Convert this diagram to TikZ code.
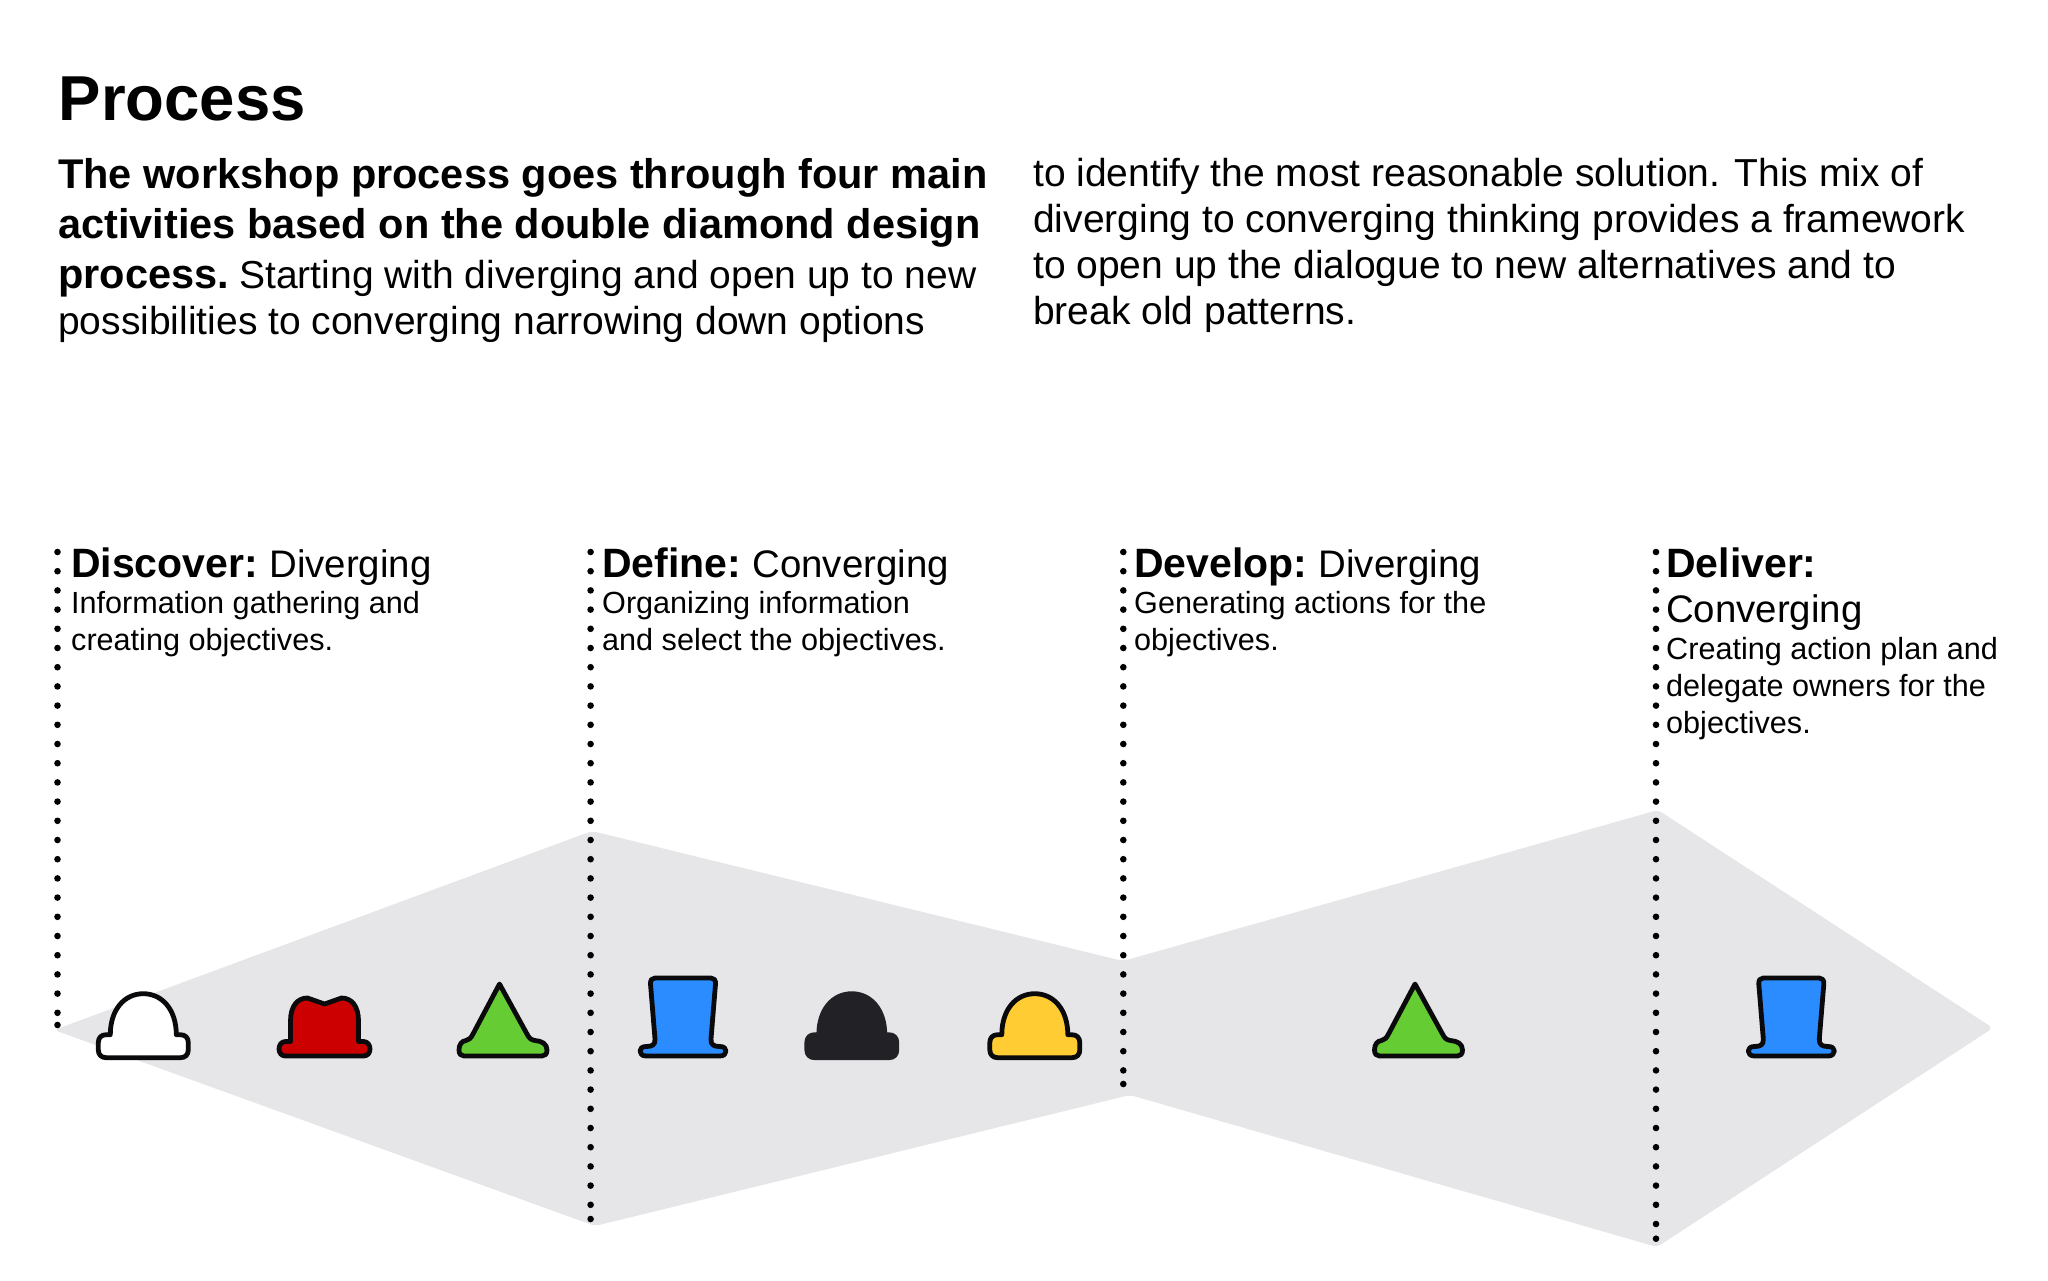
\documentclass[tikz,border=0pt]{standalone}
\usepackage{fontspec}
\setmainfont{Liberation Sans}
\definecolor{panelgray}{HTML}{E6E6E8}
\definecolor{hatedge}{HTML}{0A0A0C}
\definecolor{hatblack}{HTML}{222226}
\definecolor{hatred}{HTML}{CC0000}
\definecolor{hatgreen}{HTML}{66CC33}
\definecolor{hatblue}{HTML}{2B8CFF}
\definecolor{hatyellow}{HTML}{FFCC33}
\newcommand{\headbold}[1]{{\fontsize{41}{41}\selectfont\bfseries #1}}
\newcommand{\headplain}[1]{{\fontsize{38.4}{41}\selectfont #1}}
\newcommand{\introbold}[1]{{\fontsize{41.5}{50}\selectfont\bfseries #1}}
\tikzset{
  textline/.style={anchor=base west,inner sep=0pt,align=left},
  phasetext/.style={textline,font=\fontsize{30.6}{36.7}\selectfont},
  introtext/.style={textline,font=\fontsize{39}{46}\selectfont},
  dotline/.style={line width=6.6pt,line cap=round,dash pattern=on 0pt off 19.2pt},
  hatline/.style={draw=hatedge,line width=4.8pt,line join=round},
  pics/domehat/.style={code={
    \draw[hatline,fill=#1] (-37,0) .. controls (-42,0) and (-45,-3) .. (-45,-8) -- (-45,-15)
      .. controls (-45,-20) and (-42,-23) .. (-37,-23) -- (-33,-23)
      .. controls (-33,-48) and (-19,-64) .. (0,-64) .. controls (19,-64) and (33,-48) .. (33,-23)
      -- (37,-23) .. controls (42,-23) and (45,-20) .. (45,-15) -- (45,-8)
      .. controls (45,-3) and (42,0) .. (37,0) -- cycle;
  }},
  pics/fedorahat/.style={code={
    \draw[hatline,fill=#1] (-39,0) .. controls (-43,0) and (-45.5,-3) .. (-45.5,-7)
      .. controls (-45.5,-11) and (-43,-14.5) .. (-39,-14.5) -- (-34,-14.5) -- (-34,-35)
      .. controls (-34,-50) and (-27,-58) .. (-17,-58) -- (0,-52) -- (17,-58)
      .. controls (27,-58) and (34,-50) .. (34,-35) -- (34,-14.5) -- (39,-14.5)
      .. controls (43,-14.5) and (45.5,-11) .. (45.5,-7) .. controls (45.5,-3) and (43,0) .. (39,0) -- cycle;
  }},
  pics/conehat/.style={code={
    \draw[hatline,fill=#1] (-39,0) .. controls (-42,0) and (-44,-2) .. (-44,-6)
      .. controls (-44,-12) and (-41,-15) .. (-37,-15.5) .. controls (-34,-16) and (-32,-18) .. (-30,-22)
      -- (-3.5,-72) -- (24,-22) .. controls (26,-18) and (28,-16) .. (32,-15.5)
      .. controls (39,-15) and (44,-12) .. (44,-6) .. controls (44,-2) and (42,0) .. (39,0) -- cycle;
  }},
  pics/tophat/.style={code={
    \draw[hatline,fill=#1] (-37,0) .. controls (-41,0) and (-43,-2.5) .. (-43,-5)
      .. controls (-43,-7.5) and (-41,-9.5) .. (-37,-9.5) .. controls (-31,-9.5) and (-27.6,-11) .. (-28,-17)
      -- (-32.5,-72) .. controls (-32.8,-76) and (-31,-78) .. (-28,-78) -- (28,-78)
      .. controls (31,-78) and (32.8,-76) .. (32.5,-72) -- (28,-17)
      .. controls (27.6,-11) and (31,-9.5) .. (37,-9.5) .. controls (41,-9.5) and (43,-7.5) .. (43,-5)
      .. controls (43,-2.5) and (41,0) .. (37,0) -- cycle;
  }}
}
\begin{document}
\begin{tikzpicture}[x=1pt,y=-1pt]
\useasboundingbox (0,0) rectangle (2048,1280);

% diamonds
\fill[panelgray,rounded corners=5pt] (54,1030) -- (592,831) -- (1123,961) -- (1658,810) -- (1993,1028)
  -- (1657,1247) -- (1130,1095) -- (595,1226) -- cycle;

% dotted dividers
\coordinate (discovertop) at (57.5,552);
\coordinate (discoverend) at (57.5,1025);
\coordinate (definetop) at (590.6,552);
\coordinate (defineend) at (590.6,1219);
\coordinate (developtop) at (1123.3,552);
\coordinate (developend) at (1123.3,1084);
\coordinate (delivertop) at (1656,552);
\coordinate (deliverend) at (1656,1238.7);
\foreach \col in {discover,define,develop,deliver} {
  \draw[dotline] (\col top) -- (\col end);
  \fill (\col end) circle (3.3pt);
}

% title and intro
\node[textline,font=\fontsize{63.5}{70}\selectfont\bfseries] (title) at (58.5,120) {Process};
\node[introtext,font=\fontsize{39}{50}\selectfont] (introleft) at (58,334.5) {\introbold{The workshop process goes through four main}\\
  \introbold{activities based on the double diamond design}\\
  \introbold{process.}\hspace{-4pt} Starting with diverging and open up to new\\[-4.3pt]
  possibilities to converging narrowing down options};
\node[introtext] (introright) at (1033,324) {to identify the most reasonable solution. This mix of\\
  diverging to converging thinking provides a framework\\
  to open up the dialogue to new alternatives and to\\
  break old patterns.};

% phase labels
\node[phasetext] (discover) at (71,650.5) {\headbold{Discover:} \headplain{Diverging}\\
  Information gathering and\\
  creating objectives.};
\node[phasetext] (define) at (602,650.5) {\headbold{Define:} \headplain{Converging}\\
  Organizing information\\
  and select the objectives.};
\node[phasetext] (develop) at (1134,650.5) {\headbold{Develop:} \headplain{Diverging}\\
  Generating actions for the\\
  objectives.};
\node[phasetext] (deliver) at (1666,733) {\headbold{Deliver:}\\[8pt]
  \headplain{Converging}\\[0.9pt]
  Creating action plan and\\
  delegate owners for the\\
  objectives.};

% hats
\pic (whitehat) at (143.3,1057.7) {domehat=white};
\pic (redhat) at (324.5,1056) {fedorahat=hatred};
\pic (greenhat) at (503,1056) {conehat=hatgreen};
\pic (bluehat) at (683,1056) {tophat=hatblue};
\pic[hatline/.append style={draw=hatblack}] (blackhat) at (851.8,1057.7) {domehat=hatblack};
\pic (yellowhat) at (1034.8,1057.7) {domehat=hatyellow};
\pic (greenhattwo) at (1418.5,1056) {conehat=hatgreen};
\pic (bluehattwo) at (1791.3,1056) {tophat=hatblue};
\end{tikzpicture}
\end{document}
